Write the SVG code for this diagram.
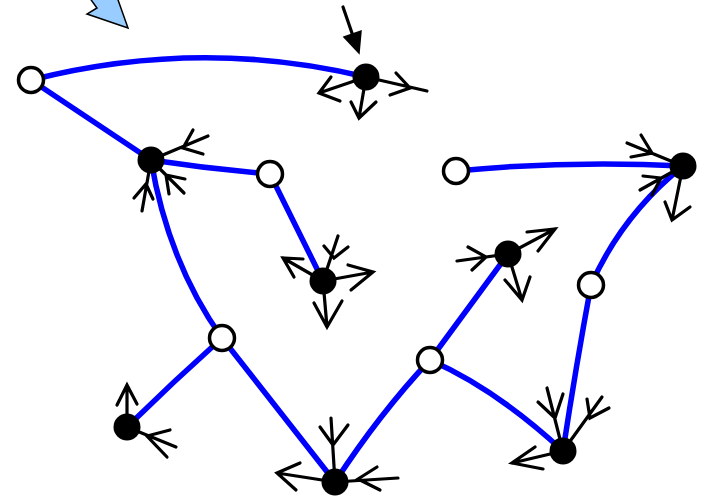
<svg xmlns="http://www.w3.org/2000/svg" width="702" height="499" viewBox="0 0 702 499">
<style>
.edge{fill:none;stroke:#0000ff;stroke-width:5.5;stroke-linecap:round}
.stub{fill:none;stroke:#000;stroke-width:3.2;stroke-linecap:round;stroke-linejoin:miter}
.open{fill:#fff;stroke:#000;stroke-width:3.5}
.solid{fill:#000}
</style>
<rect width="702" height="499" fill="#fff"/>
<polygon points="89,-3 97,8 87,14 128,28 117,-3" fill="#99ccff" stroke="#000" stroke-width="1.5" stroke-linejoin="miter"/>
<g id="connectors">
<path class="edge" d="M31,80 Q200,37 366,77"/>
<path class="edge" d="M31,80 L151,160"/>
<path class="edge" d="M151,160 Q210,169 270,174"/>
<path class="edge" d="M151,160 Q168,262 222,338"/>
<path class="edge" d="M270,174 L323,281"/>
<path class="edge" d="M222,338 Q174,381 127,427"/>
<path class="edge" d="M222,338 L335,482"/>
<path class="edge" d="M335,482 Q380,413 430,360"/>
<path class="edge" d="M430,360 L508,254"/>
<path class="edge" d="M430,360 Q496,389 563,451"/>
<path class="edge" d="M563,451 Q576,366 591,285"/>
<path class="edge" d="M591,285 Q622,215 683,166"/>
<path class="edge" d="M456,171 Q570,160 683,166"/>
</g>
<g id="B1">
<path class="stub" d="M343,7 L353,36"/>
<polygon points="344,37 361,31 359,53" fill="#000" stroke="#000" stroke-width="1.5"/>
<path class="stub" d="M366,77 L319,93 M331,77 L319,93 L340,101"/>
<path class="stub" d="M366,77 L359,118 M351,102 L359,118 L376,102"/>
<path class="stub" d="M366,77 L427,91 M396,73 L410,88 L390,95"/>
<circle class="solid" cx="366" cy="77" r="13.5"/>
</g>
<g id="B2">
<path class="stub" d="M151,160 L208,136 M193,130 L183,148 L203,154"/>
<path class="stub" d="M151,160 L184,193 M185,179 L166,175 L169,194"/>
<path class="stub" d="M151,160 L142,211 M134,198 L146,184 L153,199"/>
<circle class="solid" cx="151" cy="160" r="13.5"/>
</g>
<g id="B3">
<path class="stub" d="M323,281 L338,236 M324,246 L334,258 L348,247"/>
<path class="stub" d="M323,281 L283,258 M303,259 L283,258 L294,277"/>
<path class="stub" d="M323,281 L373,272 M348,265 L373,272 L351,290"/>
<path class="stub" d="M323,281 L327,327 M314,303 L327,327 L342,301"/>
<circle class="solid" cx="323" cy="281" r="13.5"/>
</g>
<g id="B4">
<path class="stub" d="M508,254 L457,261 M468,247 L486,257 L472,270"/>
<path class="stub" d="M508,254 L555,229 M527,232 L555,229 L538,251"/>
<path class="stub" d="M508,254 L522,300 M505,280 L522,300 L530,277"/>
<circle class="solid" cx="508" cy="254" r="13.5"/>
</g>
<g id="B5">
<path class="stub" d="M683,166 L627,143 M641,135 L652,153 L631,157"/>
<path class="stub" d="M683,166 L640,190 M643,176 L661,178 L652,195"/>
<path class="stub" d="M683,166 L672,220 M665,202 L672,220 L690,207"/>
<circle class="solid" cx="683" cy="166" r="13.5"/>
</g>
<g id="B6">
<path class="stub" d="M127,427 L127,385 M117,405 L127,385 L137,404"/>
<path class="stub" d="M127,427 L176,447 M170,430 L147,436 L167,457"/>
<circle class="solid" cx="127" cy="427" r="13.5"/>
</g>
<g id="B7">
<path class="stub" d="M335,482 L331,418 M320,427 L333,445 L348,425"/>
<path class="stub" d="M335,482 L277,473 M300,463 L277,473 L296,490"/>
<path class="stub" d="M335,482 L398,478 M377,467 L358,479 L380,490"/>
<circle class="solid" cx="335" cy="482" r="13.5"/>
</g>
<g id="B8">
<path class="stub" d="M563,451 L512,463 M535,447 L512,463 L543,469"/>
<path class="stub" d="M563,451 L547,388 M538,402 L555,418 L563,394"/>
<path class="stub" d="M563,451 L602,397 M587,399 L590,418 L609,408"/>
<circle class="solid" cx="563" cy="451" r="13.5"/>
</g>
<g id="W1"><circle class="open" cx="31" cy="80" r="12.5"/></g>
<g id="W2"><circle class="open" cx="270" cy="174" r="12.5"/></g>
<g id="W3"><circle class="open" cx="456" cy="171" r="12.5"/></g>
<g id="W4"><circle class="open" cx="222" cy="338" r="12.5"/></g>
<g id="W5"><circle class="open" cx="430" cy="360" r="12.5"/></g>
<g id="W6"><circle class="open" cx="591" cy="285" r="12.5"/></g>
</svg>
